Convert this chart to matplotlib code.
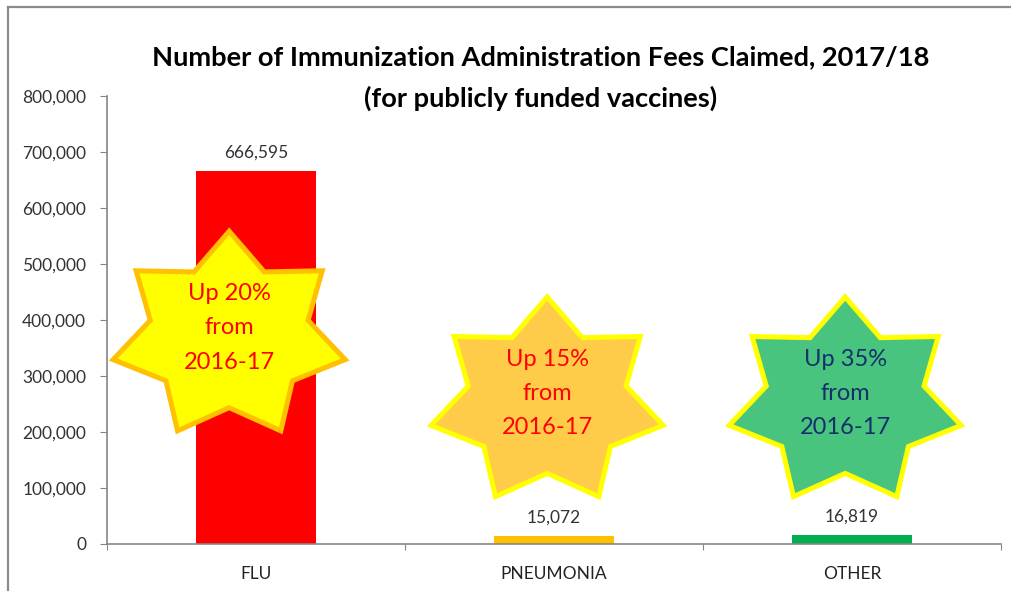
import matplotlib
matplotlib.use("Agg")
import matplotlib.pyplot as plt
import matplotlib.transforms as mtransforms
from matplotlib.patches import Polygon
from matplotlib.lines import Line2D
import numpy as np

# chart data
categories = ["FLU", "PNEUMONIA", "OTHER"]
fees_claimed = [666595, 15072, 16819]
bar_colors = ["#FF0000", "#FFC000", "#00B050"]
yticks = [0, 100000, 200000, 300000, 400000, 500000, 600000, 700000, 800000]

# star call-outs
star_texts = ["Up 20%\nfrom\n2016-17", "Up 15%\nfrom\n2016-17", "Up 35%\nfrom\n2016-17"]
star_x = [-0.09, 0.977, 1.977]
star_y = [371000, 253600, 253600]
star_fill = ["#FFFF00", "#FFCC4A", "#48C47E"]
star_edge = ["#FFC000", "#FFFF00", "#FFFF00"]
star_text_color = ["#FF0000", "#FF0000", "#13306A"]

plt.rcParams["font.family"] = ["Lato", "DejaVu Sans"]

fig = plt.figure(figsize=(10.12, 5.91), dpi=100)
ax = fig.add_axes([107 / 1012, 47 / 591, 894 / 1012, 448 / 591])

x = np.arange(len(categories))
bars = ax.bar(x, fees_claimed, width=0.4, color=bar_colors, zorder=2)

ax.set_xlim(-0.5, 2.5)
ax.set_ylim(0, 800000)
ax.set_yticks(yticks)
ax.set_yticklabels([f"{v:,}" for v in yticks], fontsize=12.5, color="#333333")
ax.set_xticks([-0.5, 0.5, 1.5, 2.5])
ax.set_xticklabels([])
ax.set_xticks(x, minor=True)
ax.set_xticklabels(categories, minor=True, fontsize=12.5, color="#222222")
ax.tick_params(axis="x", which="minor", length=0, pad=16)
ax.tick_params(axis="x", which="major", length=4.5, color="#868686", direction="out")
ax.tick_params(axis="y", length=5, color="#868686", pad=10)
for s in ["top", "right"]:
    ax.spines[s].set_visible(False)
for s in ["left", "bottom"]:
    ax.spines[s].set_color("#868686")
    ax.spines[s].set_linewidth(1.2)

# value labels
for xi, v in zip(x, fees_claimed):
    ax.annotate(f"{v:,}", (xi, v), xytext=(0, 7), textcoords="offset points",
                ha="center", va="bottom", fontsize=12.5, color="#333333")

# seven-pointed stars (shape size in inches, anchored at data point)
def star_vertices(rx, ry, ratio, n=7):
    pts = []
    for i in range(2 * n):
        ang = np.pi / 2 + i * np.pi / n
        r = 1.0 if i % 2 == 0 else ratio
        pts.append((rx * r * np.cos(ang), ry * r * np.sin(ang)))
    return np.array(pts)

verts = star_vertices(1.19, 1.05, 0.68)
for i in range(3):
    tr = fig.dpi_scale_trans + mtransforms.ScaledTranslation(star_x[i], star_y[i], ax.transData)
    poly = Polygon(verts, closed=True, facecolor=star_fill[i], edgecolor=star_edge[i],
                   linewidth=3.6, transform=tr, zorder=3, clip_on=False, joinstyle="miter")
    ax.add_patch(poly)
    ax.annotate(star_texts[i], (star_x[i], star_y[i]), xytext=(0, 6), textcoords="offset points",
                ha="center", va="center", fontsize=17, color=star_text_color[i],
                linespacing=1.78, zorder=4)

# title
fig.text(0.534, 1 - 57 / 591, "Number of Immunization Administration Fees Claimed, 2017/18",
         ha="center", va="center", fontsize=19.6, fontweight="bold")
fig.text(0.534, 1 - 98 / 591, "(for publicly funded vaccines)",
         ha="center", va="center", fontsize=19.6, fontweight="bold")

# chart area border (top and left visible)
fig.add_artist(Line2D([8 / 1012, 1], [1 - 6.5 / 591, 1 - 6.5 / 591], color="#8C8C8C", linewidth=1.6))
fig.add_artist(Line2D([8 / 1012, 8 / 1012], [0, 1 - 6.5 / 591], color="#8C8C8C", linewidth=1.6))

fig.savefig("out.png", dpi=100)
